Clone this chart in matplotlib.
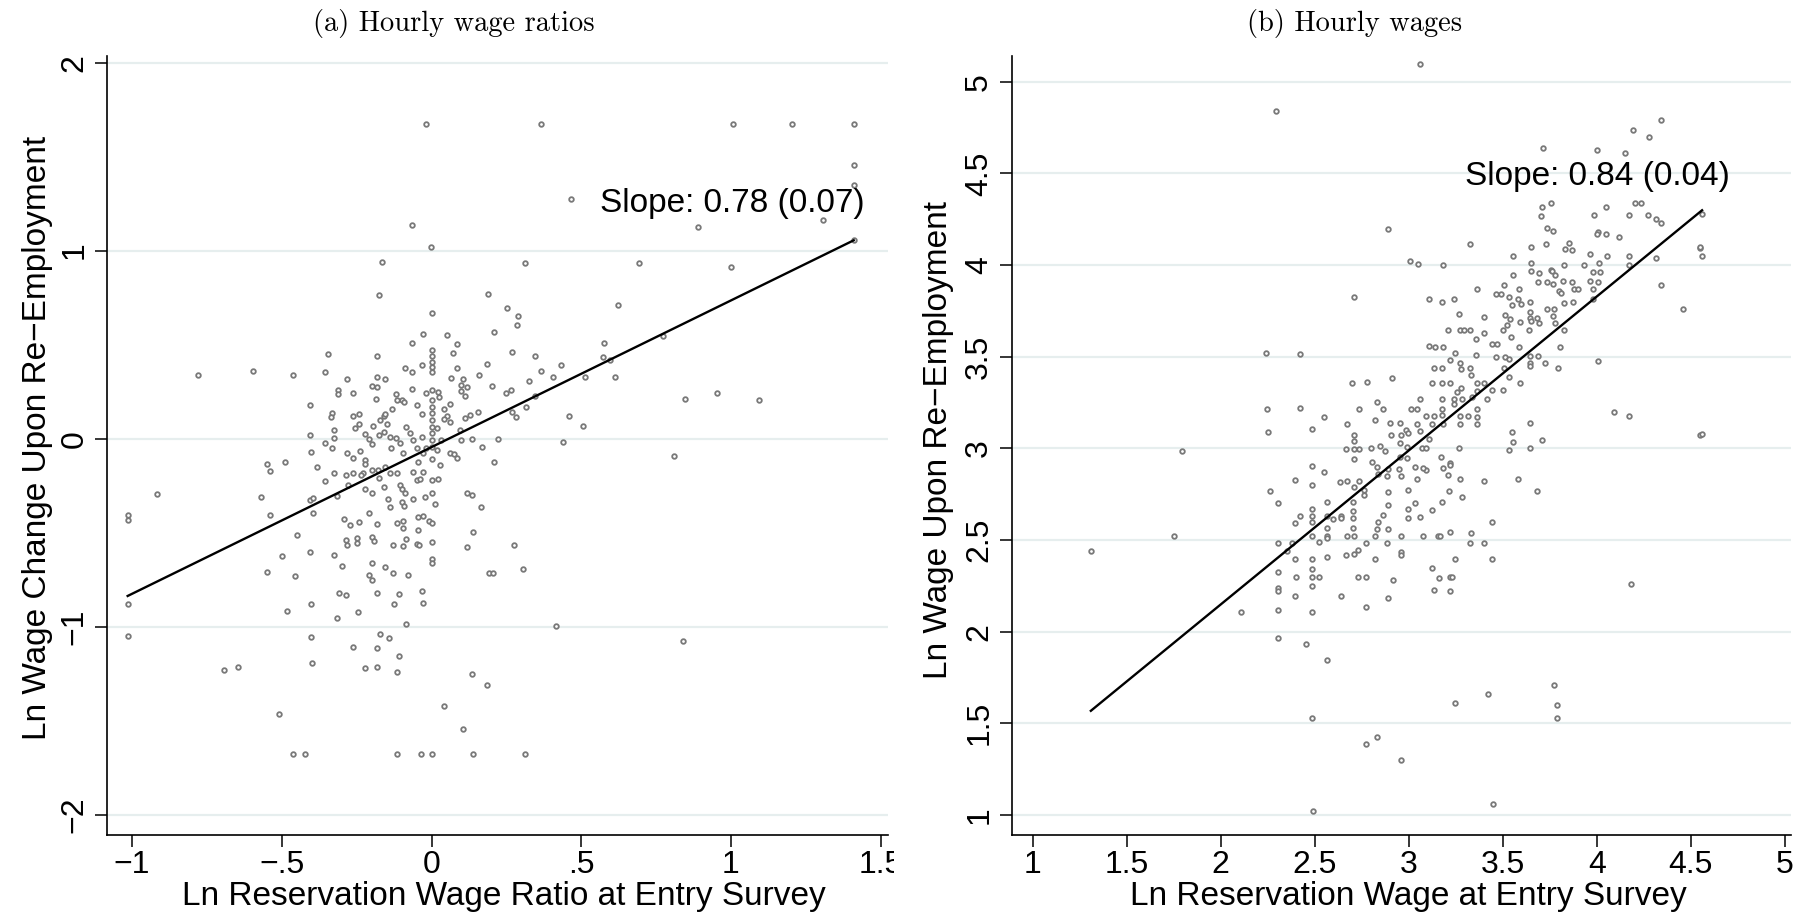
import matplotlib.pyplot as plt
from matplotlib.patches import Rectangle

# ---- data: panel (a) hourly wage ratios ----
ratio_points = [
    (0.00, 0.667), (0.251, 0.693), (0.290, 0.652), (0.287, 0.603), (-0.030, 0.555),
    (0.052, 0.550), (-0.065, 0.511), (0.084, 0.505), (0.209, 0.567), (-0.347, 0.449),
    (-0.183, 0.440), (0.00, 0.472), (0.00, 0.440), (0.00, 0.410), (0.00, 0.383),
    (0.00, 0.356), (0.072, 0.454), (0.268, 0.463), (0.345, 0.440), (-0.598, 0.362),
    (-0.464, 0.340), (-0.356, 0.353), (-0.284, 0.319), (-0.089, 0.378), (-0.065, 0.356),
    (-0.031, 0.392), (0.084, 0.378), (0.065, 0.324), (0.158, 0.339), (0.186, 0.395),
    (0.365, 0.362), (0.326, 0.307), (-0.183, 0.326), (-0.154, 0.316), (-0.200, 0.280),
    (-0.182, 0.273), (-0.314, 0.259), (-0.314, 0.236), (-0.262, 0.245), (-0.184, 0.211),
    (-0.120, 0.236), (-0.065, 0.262), (-0.017, 0.245), (0.00, 0.259), (0.022, 0.250),
    (0.026, 0.223), (0.106, 0.316), (0.100, 0.285), (0.119, 0.273), (0.098, 0.255),
    (0.111, 0.227), (0.203, 0.280), (0.248, 0.245), (0.264, 0.261), (0.346, 0.225),
    (0.315, 0.167), (0.269, 0.142), (0.281, 0.113), (-0.405, 0.181), (-0.331, 0.138),
    (-0.336, 0.113), (-0.262, 0.119), (-0.242, 0.129), (-0.257, 0.057), (-0.244, 0.078),
    (-0.195, 0.069), (-0.173, 0.099), (-0.158, 0.121), (-0.154, 0.131), (-0.133, 0.158),
    (-0.117, 0.206), (-0.098, 0.206), (-0.091, 0.193), (-0.048, 0.177), (-0.033, 0.131),
    (0.00, 0.206), (0.00, 0.170), (0.00, 0.135), (0.00, 0.099), (0.00, 0.064),
    (0.00, 0.028), (0.00, -0.007), (0.00, -0.043), (0.042, 0.158), (0.061, 0.184),
    (0.050, 0.122), (0.061, 0.087), (0.042, 0.105), (0.017, 0.055), (0.095, 0.046),
    (0.111, 0.108), (0.128, 0.124), (0.156, 0.142), (0.033, -0.007), (0.097, -0.007),
    (0.134, -0.002), (0.169, -0.044), (0.223, -0.004), (-0.325, 0.048), (-0.326, 0.002),
    (-0.355, -0.025), (-0.333, -0.051), (-0.405, 0.018), (-0.403, -0.069), (-0.281, -0.078),
    (-0.263, -0.105), (-0.239, -0.066), (-0.223, 0.023), (-0.209, -0.002), (-0.200, -0.028),
    (-0.223, -0.113), (-0.223, -0.135), (-0.176, 0.020), (-0.159, 0.037), (-0.150, 0.078),
    (-0.139, 0.007), (-0.136, -0.048), (-0.119, 0.002), (-0.106, -0.025), (-0.095, -0.078),
    (-0.084, 0.064), (-0.072, 0.028), (-0.061, -0.007), (-0.050, -0.051), (-0.033, 0.011),
    (-0.028, -0.078), (-0.045, -0.122), (-0.017, -0.051), (0.017, -0.060), (0.028, -0.140),
    (0.063, -0.078), (0.075, -0.083), (0.084, -0.105), (0.00, -0.110), (-0.028, -0.176),
    (-0.061, -0.176), (-0.117, -0.184), (-0.139, -0.184), (-0.156, -0.149), (-0.178, -0.167),
    (-0.200, -0.167), (-0.228, -0.184), (-0.234, -0.193), (-0.262, -0.184), (-0.286, -0.193),
    (-0.326, -0.184), (-0.355, -0.227), (-0.382, -0.149), (-0.490, -0.124), (-0.549, -0.137),
    (-0.540, -0.170), (-0.570, -0.309), (-0.538, -0.408), (-0.451, -0.511), (-0.406, -0.326),
    (-0.395, -0.314), (-0.395, -0.397), (-0.315, -0.303), (-0.280, -0.248), (-0.222, -0.266),
    (-0.199, -0.287), (-0.177, -0.209), (-0.158, -0.257), (-0.146, -0.321), (-0.139, -0.365),
    (-0.106, -0.248), (-0.100, -0.270), (-0.089, -0.287), (-0.098, -0.335), (-0.092, -0.356),
    (-0.061, -0.323), (-0.050, -0.220), (-0.037, -0.215), (-0.022, -0.312), (0.00, -0.220),
    (0.022, -0.215), (0.00, -0.291), (0.011, -0.348), (-0.293, -0.427), (-0.271, -0.457),
    (-0.241, -0.443), (-0.210, -0.394), (-0.182, -0.456), (-0.117, -0.447), (-0.095, -0.436),
    (-0.095, -0.473), (-0.045, -0.415), (-0.030, -0.411), (-0.045, -0.488), (-0.009, -0.436),
    (0.002, -0.447), (0.117, -0.291), (0.134, -0.298), (0.165, -0.363), (0.208, -0.122),
    (0.137, -0.496), (0.117, -0.578), (0.275, -0.566), (0.304, -0.691), (0.193, -0.716),
    (0.204, -0.713), (-0.286, -0.539), (-0.248, -0.528), (-0.248, -0.553), (-0.283, -0.564),
    (-0.199, -0.523), (-0.193, -0.546), (-0.130, -0.566), (-0.095, -0.569), (-0.086, -0.532),
    (-0.048, -0.559), (-0.041, -0.564), (0.00, -0.551), (0.00, -0.638), (0.00, -0.663),
    (-0.498, -0.626), (-0.405, -0.605), (-0.327, -0.617), (-0.300, -0.679), (-0.199, -0.661),
    (-0.154, -0.681), (-0.130, -0.713), (-0.080, -0.727), (-0.549, -0.707), (-0.455, -0.730),
    (-0.208, -0.727), (-0.200, -0.750), (-0.308, -0.819), (-0.287, -0.830), (-0.183, -0.823),
    (-0.108, -0.826), (-0.033, -0.810),
    (-0.484, -0.917), (-0.404, -0.878), (-0.246, -0.920), (-0.317, -0.952), (-0.125, -0.879),
    (-0.030, -0.872), (-0.087, -0.988), (0.416, -0.995), (-0.404, -1.053), (-0.171, -1.041),
    (-0.143, -1.060), (-0.262, -1.110), (-0.182, -1.112), (-0.109, -1.156), (-0.400, -1.193),
    (-0.223, -1.220), (-0.183, -1.216), (-0.117, -1.243), (-0.693, -1.230), (-0.645, -1.216),
    (0.135, -1.254), (0.184, -1.310), (0.043, -1.422), (-0.510, -1.466), (0.105, -1.546),
    (-0.463, -1.676), (-0.422, -1.676), (-0.117, -1.676), (-0.036, -1.676), (0.001, -1.676),
    (0.140, -1.676), (0.311, -1.676),
    (0.364, 1.671), (1.007, 1.671), (1.204, 1.671), (1.410, 1.671), (1.410, 1.457),
    (1.410, 1.347), (1.410, 1.054), (1.306, 1.161), (0.891, 1.125), (0.467, 1.274),
    (0.312, 0.932), (0.694, 0.934), (0.999, 0.914), (0.624, 0.712), (0.577, 0.510),
    (0.431, 0.391), (0.404, 0.329), (0.574, 0.434), (0.596, 0.418), (0.772, 0.547),
    (0.511, 0.329), (0.612, 0.329),
    (-1.015, -0.406), (-1.015, -0.435), (-0.918, -0.292), (-1.015, -0.880), (-1.015, -1.049),
    (-0.780, 0.340), (-0.018, 1.672), (-0.065, 1.137), (-0.003, 1.021), (-0.164, 0.941),
    (-0.176, 0.764), (0.190, 0.770), (0.440, -0.020), (0.460, 0.120), (0.505, 0.066),
    (0.845, 0.211), (0.952, 0.242), (1.095, 0.207), (0.809, -0.095), (0.841, -1.075),
]

# ---- data: panel (b) hourly wages ----
wage_points = [
    (3.711, 4.315), (3.755, 4.337), (3.702, 4.268), (4.050, 4.315), (4.204, 4.337),
    (4.236, 4.337), (3.984, 4.272), (4.172, 4.272), (4.275, 4.272), (4.317, 4.250),
    (4.342, 4.232), (2.888, 4.195), (3.734, 4.203), (3.766, 4.188), (4.005, 4.181),
    (4.002, 4.168), (4.051, 4.168), (4.119, 4.155), (3.323, 4.115), (3.649, 4.101),
    (3.729, 4.115), (3.851, 4.119), (3.833, 4.086), (3.870, 4.082), (3.966, 4.059),
    (4.053, 4.050), (4.172, 4.050), (4.315, 4.041), (3.553, 4.050), (3.181, 4.002),
    (3.005, 4.024), (3.051, 4.008), (3.649, 4.010), (3.649, 3.970), (3.691, 3.959),
    (3.755, 3.975), (3.764, 3.966), (3.780, 3.944), (3.823, 4.002), (3.934, 4.002),
    (4.014, 4.010), (3.982, 3.963), (4.019, 3.963), (4.174, 4.002), (3.553, 3.946),
    (3.507, 3.890), (3.585, 3.868), (3.734, 3.910), (3.688, 3.906), (3.766, 3.897),
    (3.821, 3.915), (3.870, 3.908), (3.879, 3.872), (3.900, 3.868), (3.964, 3.915),
    (4.005, 3.908), (3.979, 3.868), (4.340, 3.890), (4.461, 3.762), (2.706, 3.828),
    (3.110, 3.817), (3.179, 3.799), (3.241, 3.817), (3.362, 3.868), (3.464, 3.844),
    (3.493, 3.844), (3.532, 3.826), (3.580, 3.815), (3.596, 3.788), (3.551, 3.783),
    (3.647, 3.801), (3.736, 3.762), (3.775, 3.762), (3.828, 3.792), (3.872, 3.801),
    (3.982, 3.815), (3.266, 3.733), (3.399, 3.715), (3.514, 3.730), (3.541, 3.704),
    (3.592, 3.692), (3.645, 3.744), (3.645, 3.713), (3.649, 3.693), (3.684, 3.710),
    (3.695, 3.682), (3.769, 3.722), (3.778, 3.682), (3.211, 3.646), (3.275, 3.646),
    (3.292, 3.646), (3.323, 3.646), (3.358, 3.595), (3.401, 3.631), (3.502, 3.646),
    (3.525, 3.673), (3.544, 3.606), (3.640, 3.644), (3.823, 3.646), (3.801, 3.857),
    (3.810, 3.846), (3.110, 3.559), (3.140, 3.551), (3.181, 3.553), (3.245, 3.522),
    (3.218, 3.482), (3.273, 3.464), (3.277, 3.435), (3.326, 3.439), (3.330, 3.402),
    (3.358, 3.510), (3.440, 3.570), (3.468, 3.570), (3.464, 3.500), (3.514, 3.497),
    (3.532, 3.486), (3.587, 3.551), (3.645, 3.506), (3.686, 3.506), (3.645, 3.464),
    (3.645, 3.451), (3.727, 3.464), (3.792, 3.437), (3.805, 3.551), (4.005, 3.477),
    (3.532, 3.391), (3.507, 3.439), (3.136, 3.437), (3.179, 3.437), (3.124, 3.359),
    (3.179, 3.359), (3.220, 3.359), (2.911, 3.382), (2.776, 3.364), (2.697, 3.359),
    (2.549, 3.173), (2.484, 3.104), (2.737, 3.215), (2.833, 3.255), (2.861, 3.215),
    (2.822, 3.153), (3.060, 3.270), (3.179, 3.270), (3.239, 3.272), (3.283, 3.270),
    (3.337, 3.281), (3.362, 3.313), (3.362, 3.359), (3.399, 3.359), (3.440, 3.319),
    (3.502, 3.317), (3.590, 3.359), (3.280, 3.328), (3.255, 3.306), (3.011, 3.217),
    (3.046, 3.215), (3.089, 3.175), (3.135, 3.175), (3.179, 3.215), (3.177, 3.182),
    (3.181, 3.133), (3.275, 3.177), (3.275, 3.135), (3.314, 3.175), (3.362, 3.215),
    (3.362, 3.173), (3.362, 3.133), (3.415, 3.272), (3.239, 3.244), (2.670, 3.135),
    (2.709, 3.075), (2.709, 3.039), (2.668, 2.995), (2.709, 2.995), (2.734, 2.995),
    (2.706, 2.944), (2.801, 3.002), (2.847, 3.015), (2.876, 2.988), (2.899, 3.137),
    (2.904, 3.071), (2.954, 3.137), (2.959, 3.071), (2.986, 3.101), (2.995, 3.082),
    (2.954, 3.028), (2.993, 3.006), (3.042, 3.135), (3.060, 3.095), (3.069, 3.001),
    (3.090, 3.004), (3.106, 3.051), (3.122, 3.133), (3.092, 2.884), (3.078, 2.895),
    (3.174, 2.953), (3.220, 2.922), (3.218, 2.908), (3.181, 2.893), (3.269, 3.002),
    (2.954, 2.955), (2.993, 2.946), (3.034, 2.901), (2.950, 2.890), (2.957, 2.850),
    (2.888, 2.886), (2.886, 2.848), (2.831, 2.901), (2.803, 2.928), (2.835, 2.860),
    (2.486, 2.906), (2.550, 2.873), (2.484, 2.800), (2.635, 2.819), (2.670, 2.822),
    (2.737, 2.822), (2.706, 2.788), (2.764, 2.773), (2.764, 2.746), (2.888, 2.762),
    (2.995, 2.771), (3.042, 2.831), (3.206, 2.855), (3.216, 2.768), (3.273, 2.831),
    (3.401, 2.822), (3.583, 2.831), (3.681, 2.769), (3.284, 2.737), (3.550, 3.088),
    (3.553, 3.033), (3.534, 2.993), (3.647, 3.137), (3.647, 3.002), (3.709, 3.044),
    (4.090, 3.197), (4.172, 3.177), (4.548, 4.092), (4.548, 3.071), (2.422, 3.515),
    (2.422, 3.219),
    (1.792, 2.986), (1.752, 2.522), (2.262, 2.769), (2.303, 2.704), (2.397, 2.829),
    (2.420, 2.633), (2.397, 2.595), (2.303, 2.482), (2.377, 2.482), (2.351, 2.442),
    (2.397, 2.395), (2.303, 2.326), (2.303, 2.237), (2.303, 2.224), (2.402, 2.300),
    (2.397, 2.195), (2.303, 2.117), (2.108, 2.106), (2.303, 1.964), (2.456, 1.935),
    (2.484, 2.668), (2.484, 2.633), (2.484, 2.599), (2.484, 2.522), (2.525, 2.488),
    (2.484, 2.395), (2.484, 2.342), (2.484, 2.300), (2.525, 2.300), (2.484, 2.249),
    (2.484, 2.108), (2.565, 2.706), (2.564, 2.633), (2.564, 2.564), (2.564, 2.522),
    (2.564, 2.509), (2.564, 2.406), (2.599, 2.613), (2.638, 2.633), (2.638, 2.619),
    (2.670, 2.522), (2.709, 2.522), (2.705, 2.706), (2.705, 2.660), (2.705, 2.619),
    (2.705, 2.564), (2.667, 2.417), (2.709, 2.424), (2.732, 2.446), (2.771, 2.482),
    (2.821, 2.522), (2.830, 2.559), (2.835, 2.599), (2.821, 2.395), (2.883, 2.482),
    (2.888, 2.562), (2.888, 2.691), (2.862, 2.635), (2.956, 2.522), (2.956, 2.435),
    (2.956, 2.419), (2.996, 2.668), (2.995, 2.619), (3.060, 2.628), (3.073, 2.522),
    (3.124, 2.664), (3.158, 2.522), (3.167, 2.522), (3.218, 2.546), (3.331, 2.540),
    (3.323, 2.482), (3.401, 2.482), (3.441, 2.599), (3.441, 2.395), (3.245, 2.395),
    (3.124, 2.349), (3.163, 2.293), (3.218, 2.300), (3.230, 2.300), (3.133, 2.226),
    (3.218, 2.222), (2.917, 2.282), (2.888, 2.184), (2.771, 2.133), (2.732, 2.300),
    (2.771, 2.300), (2.638, 2.195), (2.564, 1.848), (2.484, 1.529), (2.771, 1.385),
    (2.831, 1.424), (3.245, 1.609), (3.424, 1.658), (3.035, 2.704), (3.179, 2.706),
    (1.309, 2.443), (2.295, 4.843), (2.252, 3.090), (2.246, 3.216), (2.240, 3.523),
    (3.060, 5.100), (3.712, 4.637), (4.000, 4.630), (4.150, 4.610), (4.190, 4.740),
    (4.280, 4.700), (4.340, 4.790), (4.560, 4.280), (4.550, 4.100), (4.560, 4.050),
    (4.560, 3.080), (4.180, 2.260), (3.770, 1.710), (3.790, 1.600), (3.790, 1.530),
    (3.450, 1.060), (2.490, 1.020), (2.960, 1.300),
]

# fitted lines and their labels
ratio_fit = {"slope": 0.78, "intercept": -0.045, "label": "Slope: 0.78 (0.07)", "label_at": (0.562, 1.253)}
wage_fit = {"slope": 0.84, "intercept": 0.469, "label": "Slope: 0.84 (0.04)", "label_at": (3.30, 4.486)}

ratio_xticks = [-1, -0.5, 0, 0.5, 1, 1.5]
ratio_xticklabels = ["\u22121", "\u2212.5", "0", ".5", "1", "1.5"]
ratio_yticks = [-2, -1, 0, 1, 2]
ratio_yticklabels = ["\u22122", "\u22121", "0", "1", "2"]
wage_ticks = [1, 1.5, 2, 2.5, 3, 3.5, 4, 4.5, 5]
wage_ticklabels = ["1", "1.5", "2", "2.5", "3", "3.5", "4", "4.5", "5"]

plt.rcParams["font.family"] = ["Liberation Sans", "DejaVu Sans"]

W, H = 1806, 924
fig = plt.figure(figsize=(W / 100, H / 100), dpi=100)

MARKER = "#787878"
GRID = "#e6eeee"
TICK_FS = 23
LABEL_FS = 24


def px_axes(left, top, right, bottom):
    return fig.add_axes([left / W, 1 - bottom / H, (right - left) / W, (bottom - top) / H])


def style(ax, xticks, xlabels, yticks, ylabels):
    for s in ["top", "right"]:
        ax.spines[s].set_visible(False)
    for s in ["left", "bottom"]:
        ax.spines[s].set_linewidth(1.2)
    ax.set_xticks(xticks)
    ax.set_xticklabels(xlabels)
    ax.set_yticks(yticks)
    ax.set_yticklabels(ylabels, rotation=90, va="center")
    ax.tick_params(axis="both", length=8.6, width=1.1, labelsize=TICK_FS)
    ax.tick_params(axis="x", pad=2)
    ax.tick_params(axis="y", pad=4)
    ax.grid(axis="y", color=GRID, linewidth=1.6)
    ax.set_axisbelow(True)


def panel(ax, pts, fit):
    xs = [p[0] for p in pts]
    ys = [p[1] for p in pts]
    ax.plot(xs, ys, linestyle="none", marker="o", markersize=3.3, markeredgewidth=1.3,
            markeredgecolor=MARKER, markerfacecolor="white", zorder=2)
    x0, x1 = min(xs), max(xs)
    ax.plot([x0, x1], [fit["intercept"] + fit["slope"] * x0, fit["intercept"] + fit["slope"] * x1],
            color="black", linewidth=1.7, zorder=3)
    ax.text(fit["label_at"][0], fit["label_at"][1], fit["label"], fontsize=LABEL_FS,
            ha="left", va="center", zorder=4)


# panel (a)
ax1 = px_axes(107.3, 56, 888, 835)
panel(ax1, ratio_points, ratio_fit)
style(ax1, ratio_xticks, ratio_xticklabels, ratio_yticks, ratio_yticklabels)
ax1.set_xlim(-1.083, 1.5245)
ax1.set_ylim(-2.108, 2.035)

# panel (b)
ax2 = px_axes(1011.7, 56, 1791, 835)
panel(ax2, wage_points, wage_fit)
style(ax2, wage_ticks, wage_ticklabels, wage_ticks, wage_ticklabels)
ax2.set_xlim(0.888, 5.033)
ax2.set_ylim(0.891, 5.141)

# titles and axis titles
fig.text(454 / W, 1 - 23 / H, "(a) Hourly wage ratios", family="cmr10", fontsize=20.5,
         ha="center", va="center")
fig.text(1354.5 / W, 1 - 23 / H, "(b) Hourly wages", family="cmr10", fontsize=20.5,
         ha="center", va="center")
fig.text(504 / W, 1 - 897 / H, "Ln Reservation Wage Ratio at Entry Survey", fontsize=LABEL_FS,
         ha="center", va="center")
fig.text(1408 / W, 1 - 897 / H, "Ln Reservation Wage at Entry Survey", fontsize=LABEL_FS,
         ha="center", va="center")
fig.text(38 / W, 1 - 438 / H, "Ln Wage Change Upon Re\u2212Employment", fontsize=LABEL_FS,
         rotation=90, ha="center", va="center")
fig.text(939 / W, 1 - 440 / H, "Ln Wage Upon Re\u2212Employment", fontsize=LABEL_FS,
         rotation=90, ha="center", va="center")

# panel (a) is cropped on the right in the source, cutting its last tick label
fig.add_artist(Rectangle((894 / W, 0), 24 / W, 1, transform=fig.transFigure,
                         facecolor="white", edgecolor="none", zorder=10))

fig.savefig("out.png", dpi=100)
